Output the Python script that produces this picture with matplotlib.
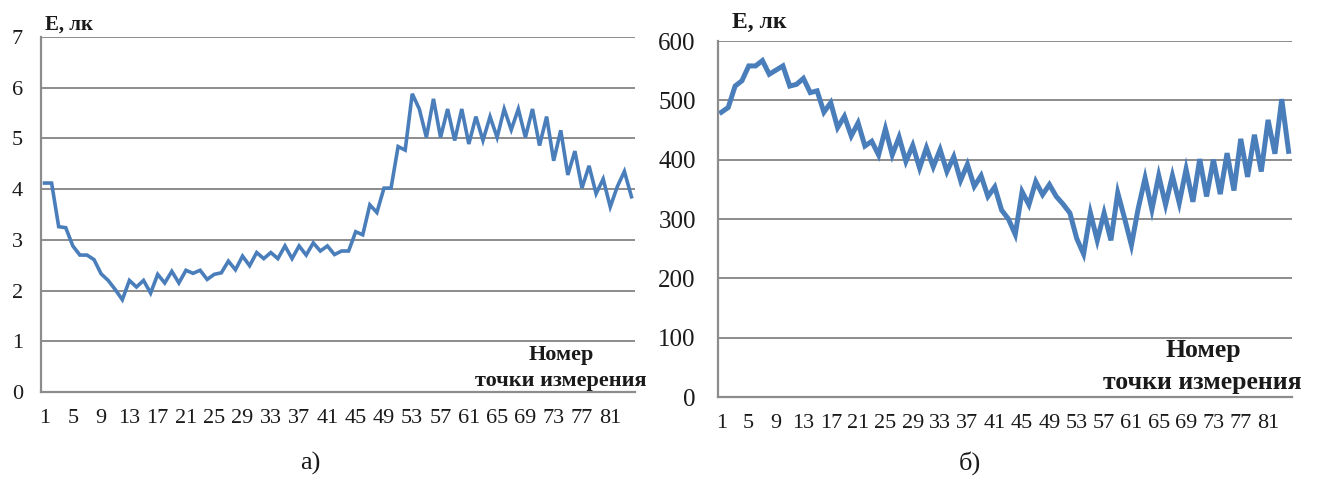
import matplotlib
matplotlib.use('Agg')
import matplotlib.pyplot as plt

plt.rcParams['font.family'] = ['Liberation Serif', 'DejaVu Serif']

# data
points = list(range(1, 85))
tick_labels = [str(i) for i in range(1, 82, 4)]

illum_a = [4.12, 4.12, 3.26, 3.24, 2.88, 2.70, 2.70, 2.61, 2.33, 2.20,
           2.02, 1.82, 2.20, 2.07, 2.20, 1.95, 2.32, 2.15, 2.38, 2.15,
           2.40, 2.34, 2.40, 2.22, 2.32, 2.35, 2.58, 2.41, 2.68, 2.49,
           2.75, 2.63, 2.75, 2.63, 2.88, 2.63, 2.88, 2.70, 2.94, 2.78,
           2.88, 2.71, 2.78, 2.78, 3.16, 3.10, 3.69, 3.54, 4.02, 4.02,
           4.84, 4.77, 5.88, 5.58, 5.02, 5.78, 5.02, 5.58, 4.96, 5.58,
           4.89, 5.43, 4.96, 5.43, 5.02, 5.58, 5.17, 5.58, 5.02, 5.58,
           4.86, 5.43, 4.56, 5.16, 4.28, 4.75, 4.02, 4.46, 3.91, 4.20,
           3.65, 4.05, 4.35, 3.85]

illum_b = [480, 488, 524, 533, 558, 558, 567, 544, 551, 558,
           524, 527, 537, 513, 516, 480, 496, 454, 473, 440,
           462, 423, 431, 408, 452, 408, 438, 397, 424, 386,
           420, 388, 417, 380, 405, 365, 392, 355, 373, 338,
           354, 315, 300, 274, 346, 324, 363, 341, 358, 338,
           325, 310, 267, 241, 310, 264, 310, 264, 344, 301,
           256, 318, 369, 316, 373, 324, 373, 327, 384, 329,
           401, 338, 400, 342, 411, 348, 435, 371, 442, 380,
           467, 410, 502, 414]

line_color = '#4a7ebb'
grid_color = '#8c8c8c'
text_color = '#1a1a1a'

W, H = 1319., 479.
fig = plt.figure(figsize=(W / 100, H / 100), dpi=100)


def make_axes(left, right, top, bottom):
    return fig.add_axes([left / W, 1 - bottom / H, (right - left) / W, (bottom - top) / H])


def style_axes(ax, ymax, ystep, ypad, xpad, ysize, xsize):
    ax.set_xlim(0.5, 84.5)
    ax.set_ylim(0, ymax)
    ax.set_yticks(range(0, ymax + 1, ystep))
    ax.set_xticks(range(1, 82, 4))
    ax.set_xticklabels(tick_labels)
    ax.grid(axis='y', color=grid_color, linewidth=1.4)
    ax.set_axisbelow(True)
    for s in ['top', 'right']:
        ax.spines[s].set_visible(False)
    ax.spines['left'].set_color(grid_color)
    ax.spines['left'].set_linewidth(1.6)
    ax.spines['bottom'].set_color(grid_color)
    ax.spines['bottom'].set_linewidth(1.6)
    ax.tick_params(axis='y', length=0, pad=ypad, labelsize=ysize, labelcolor=text_color)
    ax.tick_params(axis='x', length=0, pad=xpad, labelsize=xsize, labelcolor=text_color)


# chart a)
ax1 = make_axes(41, 635, 37, 392)
ax1.plot(points, illum_a, color=line_color, linewidth=2.6, solid_joinstyle='miter')
style_axes(ax1, 7, 1, 13, 12, 16, 16)
fig.text(45 / W, 1 - 25 / H, 'E, лк', fontsize=15, fontweight='bold', va='center', color=text_color)
fig.text(561 / W, 1 - 355 / H, 'Номер', fontsize=16, fontweight='bold', ha='center', va='center', color=text_color)
fig.text(561 / W, 1 - 381 / H, 'точки измерения', fontsize=16, fontweight='bold', ha='center', va='center',
         color=text_color)
fig.text(310 / W, 1 - 463 / H, 'а)', fontsize=19, ha='center', va='center', color=text_color)

# chart b)
ax2 = make_axes(718, 1292, 41, 397)
ax2.plot(points, illum_b, color=line_color, linewidth=3.6, solid_joinstyle='miter')
style_axes(ax2, 600, 100, 16, 12, 18, 16)
fig.text(732 / W, 1 - 22 / H, 'E, лк', fontsize=17, fontweight='bold', va='center', color=text_color)
fig.text(1203 / W, 1 - 351 / H, 'Номер', fontsize=18.5, fontweight='bold', ha='center', va='center',
         color=text_color)
fig.text(1202 / W, 1 - 382 / H, 'точки измерения', fontsize=18.5, fontweight='bold', ha='center', va='center',
         color=text_color)
fig.text(970 / W, 1 - 463 / H, 'б)', fontsize=19, ha='center', va='center', color=text_color)

fig.savefig('out.png', dpi=100)
